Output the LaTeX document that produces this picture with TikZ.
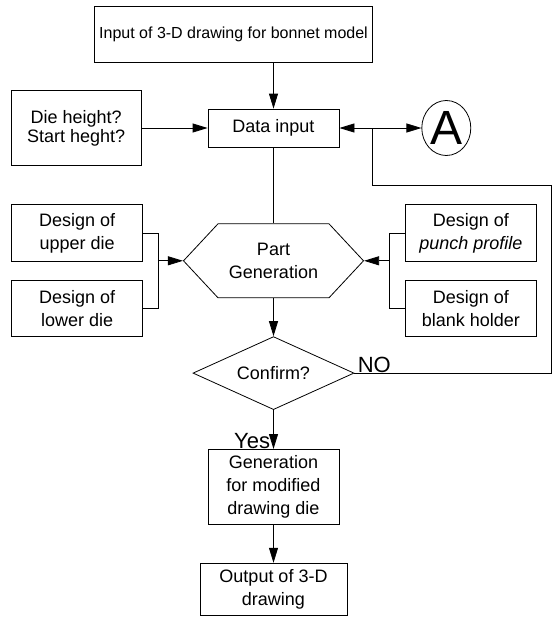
\documentclass[tikz,border=0pt]{standalone}
\usepackage{fontspec}
\setmainfont{Liberation Sans}
\usetikzlibrary{arrows.meta, positioning, shapes.geometric, shapes.symbols, calc}

\begin{document}
\begin{tikzpicture}[
    x=1pt, y=1pt,
    line width=0.8pt,
    box/.style={draw, minimum width=131pt, align=center, inner sep=3pt, font=\fontsize{18}{23}\selectfont},
    arrow/.style={-{Triangle[length=15pt, width=9pt]}},
    tag/.style={font=\fontsize{22}{24}\selectfont, inner sep=0pt}
]
\useasboundingbox (0,0) rectangle (558,-618);

% --- main column ---
\node[box, minimum height=38pt] (data) at (273.5,-128) {Data input};
\node[box, above=46pt of data, xshift=-40pt, minimum width=0pt, minimum height=56pt, inner xsep=5pt,
      font=\fontsize{16}{20}\selectfont] (model) {Input of 3-D drawing for bonnet model};
\node[box, left=66pt of data, minimum width=130pt, minimum height=75pt, font=\fontsize{18}{19}\selectfont] (height) {Die height?\\Start heght?};
\node[draw, ellipse, right=82pt of data, minimum width=49pt, minimum height=55pt, inner sep=0pt, font=\fontsize{48}{48}\selectfont] (pointA) {A};

\node[draw, signal, signal to=east and west, signal pointer angle=94, below=76pt of data,
      minimum width=180pt, minimum height=74pt, inner sep=0pt, align=center,
      font=\fontsize{18}{23}\selectfont] (part) {Part\\Generation};

% design inputs
\node[box, left=40pt of part, yshift=27.5pt, minimum height=57pt] (upper) {Design of\\upper die};
\node[box, below=18pt of upper, minimum height=56pt] (lower) {Design of\\lower die};
\node[box, right=41pt of part, yshift=27.5pt, minimum height=57pt] (punch) {Design of\\\textit{punch profile}};
\node[box, below=18pt of punch, minimum height=56pt] (holder) {Design of\\blank holder};

\node[draw, diamond, aspect=2.2, below=38pt of part, minimum width=161pt, minimum height=73pt, inner sep=0pt,
      font=\fontsize{18}{23}\selectfont] (confirm) {Confirm?};
\node[box, below=39pt of confirm, minimum height=75pt] (gen) {Generation\\for modified\\drawing die};
\node[box, below=38pt of gen, minimum width=147pt, minimum height=52pt] (output) {Output of 3-D\\drawing};

\node[tag, anchor=south west] (no) at ($(confirm.east)+(3,0)$) {NO};
\node[tag, anchor=south east] (yes) at ($(gen.north)+(-3,0)$) {Yes};

% --- connectors ---
\draw[arrow] (model.south -| data.north) -- (data.north);
\draw[arrow] (height) -- (data);
\coordinate (fork) at ($(data.east)+(33,0)$);
\draw[arrow] (fork) -- (data.east);
\draw[arrow] (fork) -- (pointA);
\draw (data.south) -- (part.north);

\coordinate (ljoin) at ($(part.west)+(-25,0)$);
\draw (upper.east) -| (ljoin) |- (lower.east);
\draw[arrow] (ljoin) -- (part.west);
\coordinate (rjoin) at ($(part.east)+(25,0)$);
\draw (punch.west) -| (rjoin) |- (holder.west);
\draw[arrow] (rjoin) -- (part.east);

\draw[arrow] (part.south) -- (confirm.north);
\draw (confirm.east) -- ++(197,0) |- ($(fork)+(0,-57)$) -- (fork);
\draw[arrow] (confirm.south) -- (gen.north);
\draw[arrow] (gen.south) -- (output.north);

\end{tikzpicture}
\end{document}
